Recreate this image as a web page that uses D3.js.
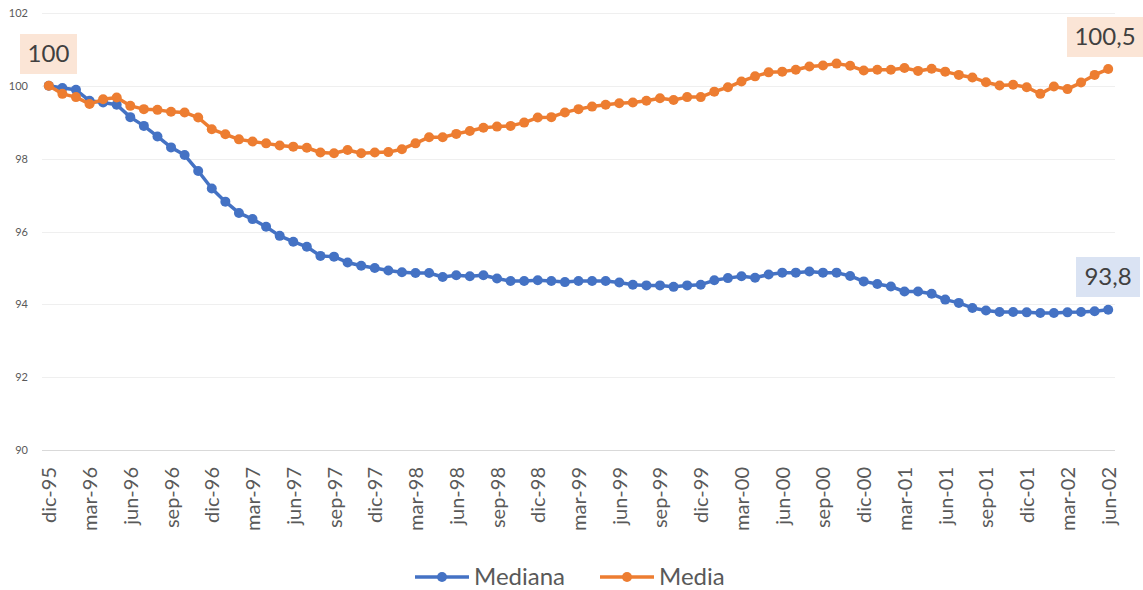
<!DOCTYPE html>
<html lang="es">
<head>
    <meta charset="UTF-8">
    <title>Mediana y Media</title>
    <script src="https://d3js.org/d3.v7.min.js"></script>
    <style>
        body { margin: 0; background: #fff; }
        text { font-family: Lato, "Open Sans", sans-serif; }
    </style>
</head>
<body>
    <script>
        //SVG dimensions
        var w = 1143;
        var h = 590;

        //Month labels (dic-95 .. jun-02)
        var mesesAbrev = ["ene", "feb", "mar", "abr", "may", "jun", "jul", "ago", "sep", "oct", "nov", "dic"];
        var meses = [];
        for (var k = 0; k < 79; k++) {
            var m = (11 + k) % 12;
            var y = 95 + Math.floor((11 + k) / 12);
            meses.push(mesesAbrev[m] + "-" + String(y % 100).padStart(2, "0"));
        }

        //Series
        var mediana = [
            100.00, 99.94, 99.89, 99.59, 99.54, 99.48, 99.14, 98.90, 98.61, 98.31,
            98.10, 97.66, 97.18, 96.82, 96.51, 96.34, 96.13, 95.88, 95.72, 95.58,
            95.33, 95.31, 95.15, 95.06, 95.00, 94.93, 94.88, 94.86, 94.86, 94.75,
            94.80, 94.77, 94.80, 94.71, 94.64, 94.64, 94.66, 94.64, 94.61, 94.64,
            94.64, 94.64, 94.60, 94.54, 94.52, 94.52, 94.48, 94.52, 94.54, 94.66,
            94.72, 94.77, 94.73, 94.82, 94.87, 94.87, 94.90, 94.87, 94.87, 94.78,
            94.63, 94.56, 94.49, 94.35, 94.35, 94.29, 94.13, 94.04, 93.90, 93.83,
            93.79, 93.79, 93.78, 93.76, 93.76, 93.78, 93.79, 93.81, 93.85
        ];
        var media = [
            100.00, 99.78, 99.69, 99.50, 99.63, 99.68, 99.45, 99.36, 99.34, 99.29,
            99.27, 99.13, 98.81, 98.67, 98.53, 98.47, 98.42, 98.36, 98.33, 98.30,
            98.17, 98.15, 98.24, 98.15, 98.17, 98.18, 98.26, 98.42, 98.59, 98.59,
            98.68, 98.76, 98.85, 98.88, 98.90, 98.99, 99.13, 99.14, 99.27, 99.36,
            99.43, 99.48, 99.52, 99.54, 99.59, 99.66, 99.61, 99.69, 99.69, 99.84,
            99.96, 100.12, 100.26, 100.37, 100.39, 100.44, 100.53, 100.56, 100.61, 100.55,
            100.42, 100.44, 100.44, 100.49, 100.41, 100.47, 100.39, 100.30, 100.23, 100.10,
            100.01, 100.03, 99.96, 99.78, 99.98, 99.91, 100.09, 100.30, 100.46
        ];
        var yTicks = [90, 92, 94, 96, 98, 100, 102];

        var series = [
            { name: "Mediana", values: mediana, color: "#4472C4" },
            { name: "Media", values: media, color: "#ED7D31" }
        ];

        var svg = d3.select("body")
            .append("svg")
            .attr("width", w)
            .attr("height", h);

        //Scales
        var xScale = d3.scalePoint()
            .domain(meses)
            .range([42, 1115])
            .padding(0.5);

        var yScale = d3.scaleLinear()
            .domain([90, 102])
            .range([450, 13]);

        //Gridlines
        svg.selectAll("line.grid")
            .data(yTicks)
            .enter()
            .append("line")
            .attr("class", "grid")
            .attr("x1", 42)
            .attr("x2", 1115)
            .attr("y1", function(d) { return Math.round(yScale(d)) + 0.5; })
            .attr("y2", function(d) { return Math.round(yScale(d)) + 0.5; })
            .attr("stroke", function(d) { return d === 90 ? "#D9D9D9" : "#EFEFEF"; })
            .attr("stroke-width", 1);

        //Y axis labels
        svg.selectAll("text.ylab")
            .data(yTicks)
            .enter()
            .append("text")
            .attr("class", "ylab")
            .attr("x", 28)
            .attr("y", function(d) { return yScale(d) + 4; })
            .attr("text-anchor", "end")
            .style("font-size", "11px")
            .style("fill", "#595959")
            .text(function(d) { return d; });

        //X axis labels (every 3 months)
        var xAxis = d3.axisBottom(xScale)
            .tickValues(meses.filter(function(d, i) { return i % 3 === 0; }))
            .tickSize(0);

        var gx = svg.append("g")
            .attr("transform", "translate(0,450)")
            .call(xAxis);
        gx.select(".domain").remove();
        gx.selectAll("text")
            .attr("transform", "rotate(-90)")
            .attr("x", -17)
            .attr("y", 0)
            .attr("dy", "0.35em")
            .attr("text-anchor", "end")
            .style("font-size", "20px")
            .style("font-family", "Lato, 'Open Sans', sans-serif")
            .style("fill", "#595959");

        //Lines and markers
        var line = d3.line()
            .x(function(d, i) { return xScale(meses[i]); })
            .y(function(d) { return yScale(d); });

        series.forEach(function(s) {
            svg.append("path")
                .datum(s.values)
                .attr("d", line)
                .attr("fill", "none")
                .attr("stroke", s.color)
                .attr("stroke-width", 3.5)
                .attr("stroke-linejoin", "round");

            svg.selectAll("circle." + s.name)
                .data(s.values)
                .enter()
                .append("circle")
                .attr("class", s.name)
                .attr("cx", function(d, i) { return xScale(meses[i]); })
                .attr("cy", function(d) { return yScale(d); })
                .attr("r", 5)
                .attr("fill", s.color);
        });

        //Data labels with boxes
        var etiquetas = [
            { text: "100", x: 20, y: 34, w: 57, h: 40, fill: "#FBE5D6" },
            { text: "100,5", x: 1067, y: 17, w: 76, h: 40, fill: "#FBE5D6" },
            { text: "93,8", x: 1076, y: 257, w: 64, h: 40, fill: "#DAE3F3" }
        ];
        etiquetas.forEach(function(e) {
            svg.append("rect")
                .attr("x", e.x).attr("y", e.y)
                .attr("width", e.w).attr("height", e.h)
                .attr("fill", e.fill);
            svg.append("text")
                .attr("x", e.x + e.w / 2)
                .attr("y", e.y + e.h / 2 + 8)
                .attr("text-anchor", "middle")
                .style("font-size", "24px")
                .style("fill", "#404040")
                .text(e.text);
        });

        //Legend
        var legend = [
            { name: "Mediana", color: "#4472C4", x: 415 },
            { name: "Media", color: "#ED7D31", x: 600 }
        ];
        legend.forEach(function(l) {
            svg.append("line")
                .attr("x1", l.x).attr("x2", l.x + 54)
                .attr("y1", 577).attr("y2", 577)
                .attr("stroke", l.color)
                .attr("stroke-width", 3.5);
            svg.append("circle")
                .attr("cx", l.x + 27).attr("cy", 577)
                .attr("r", 5)
                .attr("fill", l.color);
            svg.append("text")
                .attr("x", l.x + 59)
                .attr("y", 585)
                .style("font-size", "24px")
                .style("fill", "#595959")
                .text(l.name);
        });
    </script>
</body>
</html>
